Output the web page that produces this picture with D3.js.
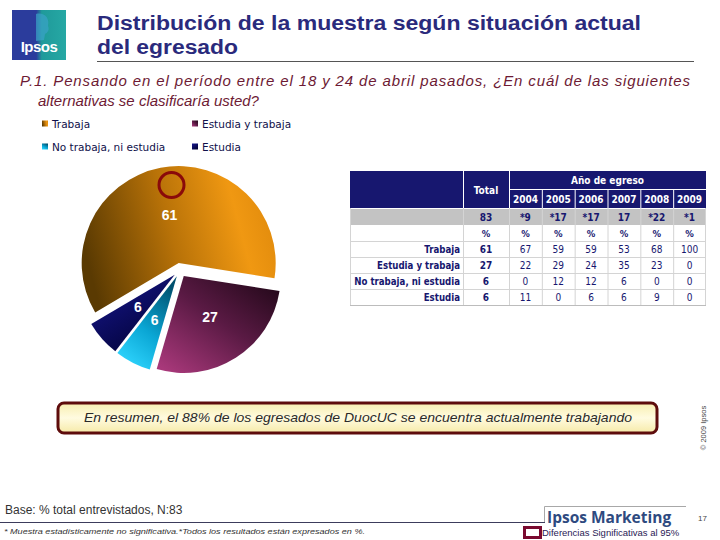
<!DOCTYPE html>
<html><head><meta charset="utf-8">
<script src="https://cdn.jsdelivr.net/npm/d3@7"></script>
<style>
html,body{margin:0;padding:0;background:#fff;}
svg{display:block;}
</style></head>
<body>
<svg id="c" width="720" height="540"></svg>
<script>
// ---------- data ----------
const categories = ["Trabaja", "Estudia y trabaja", "No trabaja, ni estudia", "Estudia"];
const totalValues = [61, 27, 6, 6];
const years = ["2004", "2005", "2006", "2007", "2008", "2009"];
const baseN = ["83", "*9", "*17", "*17", "17", "*22", "*1"];
const trabaja = [61, 67, 59, 59, 53, 68, 100];
const estudiaTrabaja = [27, 22, 29, 24, 35, 23, 0];
const noTrabaja = [6, 0, 12, 12, 6, 0, 0];
const estudia = [6, 11, 0, 6, 6, 9, 0];
const tableRows = [trabaja, estudiaTrabaja, noTrabaja, estudia];

const svg = d3.select("#c");
const defs = svg.append("defs");
const NAVY = "#17176f";

// ---------- gradients ----------
function lg(id, x1, y1, x2, y2, stops) {
  const g = defs.append("linearGradient").attr("id", id)
    .attr("x1", x1).attr("y1", y1).attr("x2", x2).attr("y2", y2);
  stops.forEach(s => g.append("stop").attr("offset", s[0]).attr("stop-color", s[1]));
}
lg("g0", 0, 0.5, 1, 0.3, [[0, "#5a3a02"], [0.45, "#b87208"], [0.8, "#f09812"], [1, "#e08a0c"]]);
lg("g1", 1, 0, 0.1, 1, [[0, "#1c0614"], [0.5, "#5a1a44"], [1, "#a8387a"]]);
lg("g2", 0.7, 0, 0.2, 1, [[0, "#00506e"], [0.55, "#0aa6d4"], [1, "#30d6ff"]]);
lg("g3", 0.2, 0, 0.9, 1, [[0, "#16168a"], [1, "#00002e"]]);
lg("logo", 0, 0, 1, 0, [[0, "#2b3c9c"], [0.45, "#2b3c9c"], [0.55, "#1f9a9a"], [1, "#26a8a4"]]);
lg("box", 0, 0, 0, 1, [[0, "#f8eeb0"], [0.5, "#fffbe0"], [1, "#f6eaa8"]]);

// ---------- header ----------
const logo = svg.append("g");
logo.append("rect").attr("x", 12).attr("y", 10).attr("width", 54).attr("height", 50).attr("fill", "url(#logo)");
logo.append("path").attr("d", "M36 14 C44 12 50 18 48 26 C50 30 47 33 45 34 L44 40 L36 41 Z").attr("fill", "#3aa2c8").attr("opacity", 0.7);
logo.append("text").attr("x", 39).attr("y", 52).attr("text-anchor", "middle")
  .attr("font-family", "Liberation Sans, Arial").attr("font-weight", "bold").attr("font-size", 15)
  .attr("fill", "#fff").attr("letter-spacing", -0.5).text("Ipsos");

const title = svg.append("text").attr("font-family", "Liberation Sans, Arial").attr("font-weight", "bold")
  .attr("font-size", 20).attr("fill", "#2a2a7c");
title.append("tspan").attr("x", 97).attr("y", 30).attr("textLength", 544).attr("lengthAdjust", "spacingAndGlyphs")
  .text("Distribución de la muestra según situación actual");
title.append("tspan").attr("x", 97).attr("y", 54).attr("textLength", 141).attr("lengthAdjust", "spacingAndGlyphs")
  .text("del egresado");
svg.append("line").attr("x1", 97).attr("x2", 694).attr("y1", 61.5).attr("y2", 61.5).attr("stroke", "#555").attr("stroke-width", 1);

const q = svg.append("text").attr("font-family", "Liberation Sans, Arial").attr("font-style", "italic")
  .attr("font-size", 15).attr("fill", "#6d1a34");
q.append("tspan").attr("x", 20).attr("y", 86).attr("textLength", 670).attr("lengthAdjust", "spacing")
  .text("P.1.  Pensando en el período entre el 18 y 24 de abril pasados, ¿En cuál de las siguientes");
q.append("tspan").attr("x", 38).attr("y", 106).text("alternativas se clasificaría usted?");

// ---------- legend ----------
const legendPos = [[42, 124], [192, 124], [42, 147], [192, 147]];
const legend = svg.append("g").selectAll("g").data(categories).join("g")
  .attr("transform", (d, i) => `translate(${legendPos[i][0]},${legendPos[i][1]})`);
legend.append("rect").attr("x", 0).attr("y", -3.5).attr("width", 6).attr("height", 6)
  .attr("fill", (d, i) => `url(#g${i})`);
legend.append("text").attr("x", 10).attr("y", 4).attr("font-family", "DejaVu Sans")
  .attr("font-size", 10.5).attr("fill", "#10104a").text(d => d);

// ---------- pie ----------
const cx = 180, cy = 270, R = 97, explode = 7;
const a0 = -120.6 * Math.PI / 180;
const pie = d3.pie().sort(null).startAngle(a0).endAngle(a0 + 2 * Math.PI);
const arcs = pie(totalValues);
const arc = d3.arc().innerRadius(0).outerRadius(R);
const labelArc = d3.arc().innerRadius(56).outerRadius(56);
const pg = svg.append("g").attr("transform", `translate(${cx},${cy})`);
pg.selectAll("path").data(arcs).join("path")
  .attr("transform", d => {
    const m = (d.startAngle + d.endAngle) / 2;
    return `translate(${explode * Math.sin(m)},${-explode * Math.cos(m)})`;
  })
  .attr("d", arc).attr("fill", (d, i) => `url(#g${i})`);
pg.selectAll("text").data(arcs).join("text")
  .attr("x", d => labelArc.centroid(d)[0]).attr("y", d => labelArc.centroid(d)[1] + 5)
  .attr("text-anchor", "middle").attr("font-family", "Liberation Sans, Arial").attr("font-weight", "bold")
  .attr("font-size", 14).attr("fill", "#fff").text(d => d.data);
// significance marker
pg.append("circle").attr("cx", labelArc.centroid(arcs[0])[0] + 2).attr("cy", -85)
  .attr("r", 12.5).attr("fill", "none").attr("stroke", "#8a0a0a").attr("stroke-width", 3);

// ---------- table ----------
const tx0 = 350, tLabelR = 463, tTotalR = 509, tx1 = 706;
const xYear = d3.scaleBand().domain(years).range([tTotalR, tx1]);
const colCenter = i => i === 0 ? (tLabelR + tTotalR) / 2 : xYear(years[i - 1]) + xYear.bandwidth() / 2;
const rowKeys = ["n", "pct"].concat(categories);
const yRow = d3.scaleBand().domain(rowKeys).range([209, 305]);
const tbl = svg.append("g").attr("font-family", "DejaVu Sans Condensed, DejaVu Sans");

// header
tbl.append("rect").attr("x", tx0).attr("y", 171).attr("width", tx1 - tx0).attr("height", 37).attr("fill", NAVY);
tbl.append("text").attr("x", (tTotalR + tx1) / 2).attr("y", 184).attr("text-anchor", "middle")
  .attr("fill", "#fff").attr("font-weight", "bold").attr("font-size", 10).text("Año de egreso");
tbl.append("text").attr("x", colCenter(0)).attr("y", 194).attr("text-anchor", "middle")
  .attr("fill", "#fff").attr("font-weight", "bold").attr("font-size", 10).text("Total");
tbl.selectAll("text.yr").data(years).join("text").attr("class", "yr")
  .attr("x", (d, i) => colCenter(i + 1)).attr("y", 203).attr("text-anchor", "middle")
  .attr("fill", "#fff").attr("font-weight", "bold").attr("font-size", 10).text(d => d);
// header white lines
tbl.append("line").attr("x1", tTotalR).attr("x2", tx1).attr("y1", 189.5).attr("y2", 189.5).attr("stroke", "#fff");
[tLabelR, tTotalR].forEach(x => tbl.append("line").attr("x1", x + 0.5).attr("x2", x + 0.5).attr("y1", 171).attr("y2", 208).attr("stroke", "#fff"));
years.slice(1).forEach(y => tbl.append("line").attr("x1", xYear(y) + 0.5).attr("x2", xYear(y) + 0.5)
  .attr("y1", 190).attr("y2", 208).attr("stroke", "#fff"));

// n row
tbl.append("rect").attr("x", tx0).attr("y", yRow("n")).attr("width", tx1 - tx0).attr("height", yRow.bandwidth()).attr("fill", "#c3c3c3");
// grid body
rowKeys.forEach(k => {
  tbl.append("line").attr("x1", tx0).attr("x2", tx1).attr("y1", yRow(k) + yRow.bandwidth() + 0.5)
    .attr("y2", yRow(k) + yRow.bandwidth() + 0.5).attr("stroke", k === "n" ? "#fff" : "#d4d4d4");
});
[tLabelR, tTotalR].concat(years.slice(1).map(y => xYear(y))).forEach(x =>
  tbl.append("line").attr("x1", x + 0.5).attr("x2", x + 0.5).attr("y1", 208).attr("y2", 305)
    .attr("stroke", "#d4d4d4"));
tbl.append("line").attr("x1", tx0 + 0.5).attr("x2", tx0 + 0.5).attr("y1", 208).attr("y2", 305).attr("stroke", "#d4d4d4");
tbl.append("line").attr("x1", tx1 - 0.5).attr("x2", tx1 - 0.5).attr("y1", 208).attr("y2", 305).attr("stroke", "#d4d4d4");
tbl.append("line").attr("x1", tx0).attr("x2", tx1).attr("y1", 305.5).attr("y2", 305.5).attr("stroke", "#bcbcbc");

const cellY = k => yRow(k) + yRow.bandwidth() / 2 + 4;
tbl.selectAll("text.n").data(baseN).join("text").attr("class", "n")
  .attr("x", (d, i) => colCenter(i)).attr("y", cellY("n")).attr("text-anchor", "middle")
  .attr("fill", NAVY).attr("font-weight", "bold").attr("font-size", 10).text(d => d);
tbl.selectAll("text.p").data(baseN).join("text").attr("class", "p")
  .attr("x", (d, i) => colCenter(i)).attr("y", cellY("pct")).attr("text-anchor", "middle")
  .attr("fill", NAVY).attr("font-weight", "bold").attr("font-size", 9.5).text("%");
categories.forEach((c, r) => {
  tbl.append("text").attr("x", tLabelR - 3).attr("y", cellY(c)).attr("text-anchor", "end")
    .attr("fill", NAVY).attr("font-weight", "bold").attr("font-size", 9.6).text(c);
  tbl.selectAll("text.r" + r).data(tableRows[r]).join("text").attr("class", "r" + r)
    .attr("x", (d, i) => colCenter(i)).attr("y", cellY(c)).attr("text-anchor", "middle")
    .attr("fill", NAVY).attr("font-weight", (d, i) => i === 0 ? "bold" : "normal")
    .attr("font-size", 10).text(d => d);
});

// ---------- summary box ----------
svg.append("rect").attr("x", 58).attr("y", 403).attr("width", 599).attr("height", 30).attr("rx", 6)
  .attr("fill", "url(#box)").attr("stroke", "#5e0c0c").attr("stroke-width", 3);
svg.append("text").attr("x", 84).attr("y", 422).attr("textLength", 548).attr("lengthAdjust", "spacingAndGlyphs")
  .attr("font-family", "Liberation Sans, Arial").attr("font-style", "italic").attr("font-size", 13.5)
  .attr("fill", "#2a2a2a").text("En resumen, el 88% de los egresados de DuocUC se encuentra actualmente trabajando");

svg.append("text").attr("transform", "translate(706,428) rotate(-90)").attr("text-anchor", "middle")
  .attr("font-family", "Liberation Sans, Arial").attr("font-size", 7.5).attr("fill", "#444").text("© 2009 Ipsos");

// ---------- footer ----------
svg.append("text").attr("x", 5).attr("y", 514).attr("font-family", "Liberation Sans, Arial").attr("font-size", 12)
  .attr("fill", "#333").text("Base: % total entrevistados, N:83");
svg.append("line").attr("x1", 0).attr("x2", 545).attr("y1", 522.5).attr("y2", 522.5).attr("stroke", "#3c3c5c");
svg.append("text").attr("x", 4).attr("y", 534).attr("textLength", 361).attr("lengthAdjust", "spacingAndGlyphs")
  .attr("font-family", "Liberation Sans, Arial").attr("font-style", "italic")
  .attr("font-size", 8).attr("fill", "#333").text("* Muestra estadísticamente no significativa.*Todos los resultados están expresados en %.");
svg.append("path").attr("d", "M544.5 522 V506.5 H686").attr("fill", "none").attr("stroke", "#a8a8a8");
svg.append("text").attr("x", 547).attr("y", 523).attr("font-family", "Open Sans, Lato").attr("font-weight", "bold")
  .attr("font-size", 15.5).attr("fill", "#2e4a80").text("Ipsos Marketing");
svg.append("text").attr("x", 698).attr("y", 521).attr("font-family", "Liberation Sans, Arial").attr("font-size", 8)
  .attr("fill", "#444").text("17");
svg.append("rect").attr("x", 524.5).attr("y", 527.5).attr("width", 16).attr("height", 10)
  .attr("fill", "#fff").attr("stroke", "#7a0a30").attr("stroke-width", 3);
svg.append("text").attr("x", 542).attr("y", 536).attr("font-family", "Liberation Sans, Arial").attr("font-size", 9.5)
  .attr("fill", "#2a1a55").text("Diferencias Significativas al 95%");
</script>
</body></html>
